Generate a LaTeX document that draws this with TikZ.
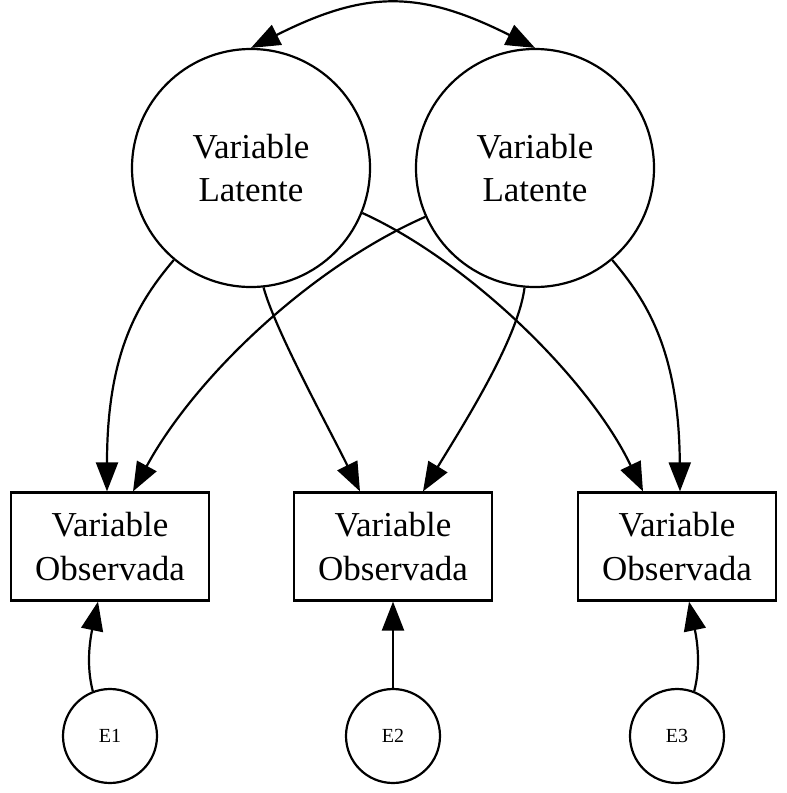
\documentclass[tikz,border=0pt]{standalone}
\usepackage{fontspec}
\setmainfont{Liberation Serif}
\usetikzlibrary{arrows.meta}
\begin{document}
\begin{tikzpicture}[x=1pt,y=-1pt,
  every path/.style={line width=2.2pt},
  lat/.style={draw, circle, minimum size=238pt, inner sep=0pt, align=center, font=\fontsize{35}{43}\selectfont},
  obs/.style={draw, rectangle, minimum width=198pt, minimum height=108pt, inner sep=0pt, align=center, font=\fontsize{35}{44}\selectfont},
  err/.style={draw, circle, minimum size=94pt, inner sep=0pt, font=\fontsize{20}{24}\selectfont},
  arr/.style={-{Triangle[length=29pt,width=22pt]}},
  darr/.style={{Triangle[length=29pt,width=22pt]}-{Triangle[length=29pt,width=22pt]}}
]
\useasboundingbox[fill=white] (0,0) rectangle (787,793);
\node[lat] (L1) at (251,168) {Variable\\Latente};
\node[lat] (L2) at (535,168) {Variable\\Latente};
\node[obs] (B1) at (110,546.5) {Variable\\Observada};
\node[obs] (B2) at (393,546.5) {Variable\\Observada};
\node[obs] (B3) at (677,546.5) {Variable\\Observada};
\node[err] (E1) at (110,736) {E1};
\node[err] (E2) at (393,736) {E2};
\node[err] (E3) at (677,736) {E3};
% covariance
\draw[darr] (L1.north) .. controls (366,-10) and (420,-10) .. (L2.north);
% loadings
\draw[arr] (L1.-130.7) .. controls (140,300) and (107,350) .. ([xshift=-3pt]B1.north);
\draw[arr] (L2.-156.7) .. controls (311,267) and (195,377) .. ([xshift=23pt]B1.north);
\draw[arr] (L1.-84) .. controls (275,330) and (330,430) .. ([xshift=-33pt]B2.north);
\draw[arr] (L2.-95) .. controls (518,340) and (460,430) .. ([xshift=30pt]B2.north);
\draw[arr] (L1.-22.4) .. controls (470,262) and (590,380) .. ([xshift=-34pt]B3.north);
\draw[arr] (L2.-50) .. controls (646,300) and (679,350) .. ([xshift=3pt]B3.north);
% errors
\draw[arr] (E1.111) .. controls (86,665) and (90,640) .. ([xshift=-12pt]B1.south);
\draw[arr] (E2.north) -- (B2.south);
\draw[arr] (E3.69) .. controls (701,665) and (697,640) .. ([xshift=12pt]B3.south);
\end{tikzpicture}
\end{document}
